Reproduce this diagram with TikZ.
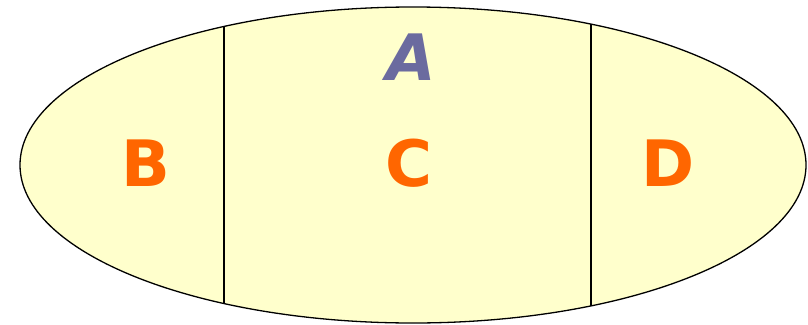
\documentclass[tikz,border=0pt]{standalone}
\usepackage{fontspec}
\setmainfont{DejaVu Sans}
\usetikzlibrary{shapes.geometric}
\definecolor{fillc}{HTML}{FFFFCC}
\definecolor{orangec}{HTML}{FF6600}
\definecolor{bluec}{HTML}{6B6B9F}
\tikzset{
  lbl/.style={text=orangec, font=\fontsize{64}{64}\selectfont\bfseries, inner sep=0pt},
  alabel/.style={text=bluec, font=\fontsize{64}{64}\selectfont\bfseries\itshape, inner sep=0pt},
  divider/.style={draw=black, line width=1.2pt}
}
\begin{document}
\begin{tikzpicture}[x=1pt,y=-1pt]
\useasboundingbox (0,0) rectangle (808,324);
\node[fill=fillc, ellipse, minimum width=786pt, minimum height=316pt, inner sep=0pt] (E) at (413,165) {};
\begin{scope}
\clip (413,165) ellipse [x radius=393pt, y radius=158pt];
\coordinate (L1t) at (224,0);
\coordinate (L1b) at (224,324);
\coordinate (L2t) at (591,0);
\coordinate (L2b) at (591,324);
\draw[divider] (L1t) -- (L1b);
\draw[divider] (L2t) -- (L2b);
\end{scope}
\draw[line width=1.3pt] (413,165) ellipse [x radius=393pt, y radius=158pt];
\node[alabel] (A) at (411,57) {A};
\node[lbl] (B) at (146,163) {B};
\node[lbl] (C) at (409,163) {C};
\node[lbl] (D) at (668,163) {D};
\end{tikzpicture}
\end{document}
